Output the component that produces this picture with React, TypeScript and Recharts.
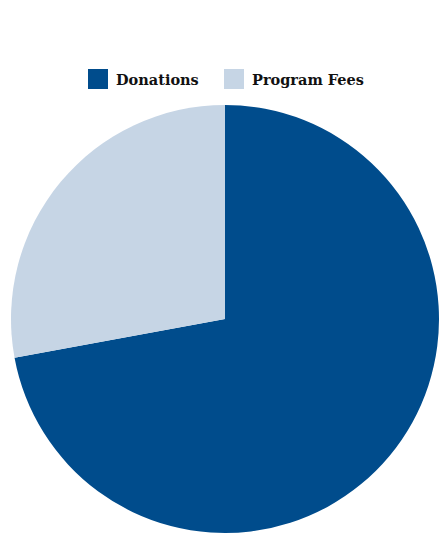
import { PieChart, Pie, Cell, Legend } from 'recharts';

const categories = ['Donations', 'Program Fees'];
const shares = [72.1, 27.9];
const colors = ['#004c8c', '#c6d5e5'];

const data = categories.map((name, i) => ({ name, value: shares[i] }));

// left edge of each legend swatch, in px
const legendX = [88, 224];

function LegendRow() {
  return (
    <div style={{ position: 'relative', height: 20 }}>
      {categories.map((name, i) => (
        <div key={name} style={{ position: 'absolute', left: legendX[i], top: 0, display: 'flex', alignItems: 'center' }}>
          <span style={{ width: 20, height: 20, background: colors[i], display: 'inline-block', marginRight: 8 }} />
          <span style={{ fontFamily: '"DejaVu Serif", serif', fontWeight: 'bold', fontSize: 14.5, color: '#111', whiteSpace: 'nowrap' }}>{name}</span>
        </div>
      ))}
    </div>
  );
}

export default function App() {
  return (
    <div style={{ position: 'absolute', left: 0, top: 0 }}>
      <PieChart width={439} height={534} margin={{ top: 0, right: 0, bottom: 0, left: 0 }}>
        <Legend
          verticalAlign="top"
          align="left"
          content={<LegendRow />}
          wrapperStyle={{ top: 69, left: 0, width: 439 }}
        />
        <Pie
          data={data}
          dataKey="value"
          nameKey="name"
          cx={225}
          cy={299}
          outerRadius={214}
          startAngle={90}
          endAngle={-270}
          stroke="none"
          isAnimationActive={false}
        >
          {data.map((d, i) => (
            <Cell key={d.name} fill={colors[i]} />
          ))}
        </Pie>
      </PieChart>
    </div>
  );
}
